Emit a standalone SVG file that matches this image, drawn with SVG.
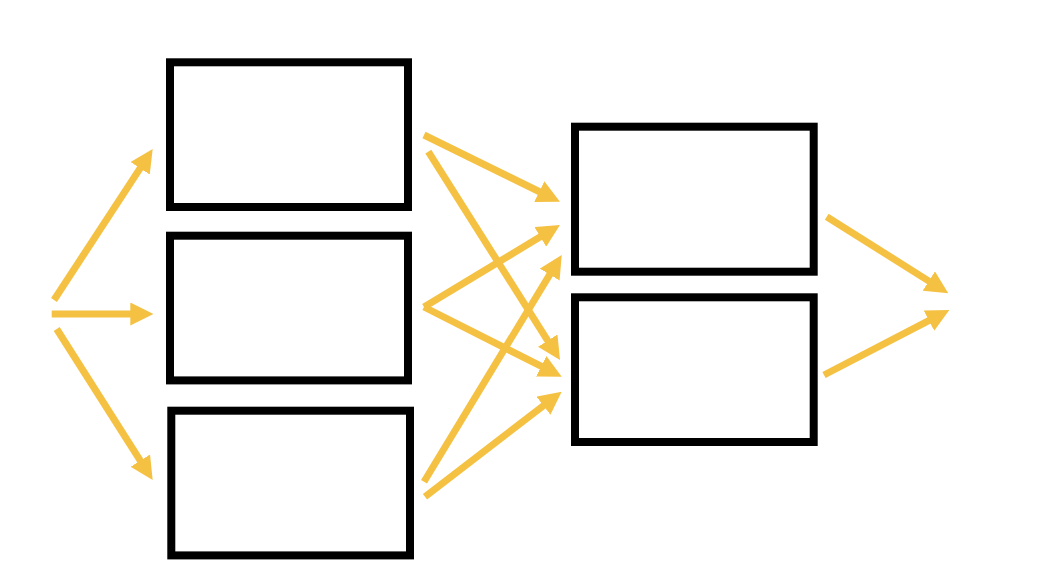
<svg xmlns="http://www.w3.org/2000/svg" width="1038" height="576" viewBox="0 0 1038 576">
<defs>
<style>
.box{fill:#fff;stroke:#000;stroke-width:8}
.conn line{stroke:#F5C143;stroke-width:7;fill:none;marker-end:url(#ah)}
</style>
<marker id="ah" markerUnits="userSpaceOnUse" markerWidth="23" markerHeight="23" refX="2" refY="11.5" orient="auto" viewBox="0 0 23 23">
<path d="M0,0 L23,11.5 L0,23 z" fill="#F5C143"/>
</marker>
</defs>
<rect width="1038" height="576" fill="#fff"/>
<g id="node1"><rect class="box" x="170" y="62.3" width="238" height="144.7"/></g>
<g id="node2"><rect class="box" x="170" y="235.7" width="238" height="144.7"/></g>
<g id="node3"><rect class="box" x="171.3" y="410.7" width="238.7" height="144.7"/></g>
<g id="node4"><rect class="box" x="575" y="126.7" width="238.7" height="145"/></g>
<g id="node5"><rect class="box" x="575" y="297.3" width="238.7" height="144.7"/></g>
<g id="connectors" class="conn">
<line x1="54" y1="300" x2="141.2" y2="166.6"/>
<line x1="51.7" y1="314" x2="132.3" y2="314"/>
<line x1="56.7" y1="329" x2="141.4" y2="462.3"/>
<line x1="424" y1="135" x2="541.1" y2="192.5"/>
<line x1="428.3" y1="151.7" x2="548.8" y2="342.3"/>
<line x1="424" y1="307" x2="542" y2="235.8"/>
<line x1="424" y1="307" x2="543" y2="367.2"/>
<line x1="424" y1="481.7" x2="550.8" y2="272.9"/>
<line x1="425" y1="496.7" x2="545" y2="404.5"/>
<line x1="826.7" y1="216.7" x2="930.5" y2="282.1"/>
<line x1="824" y1="375" x2="930.7" y2="319.7"/>
</g>
</svg>
